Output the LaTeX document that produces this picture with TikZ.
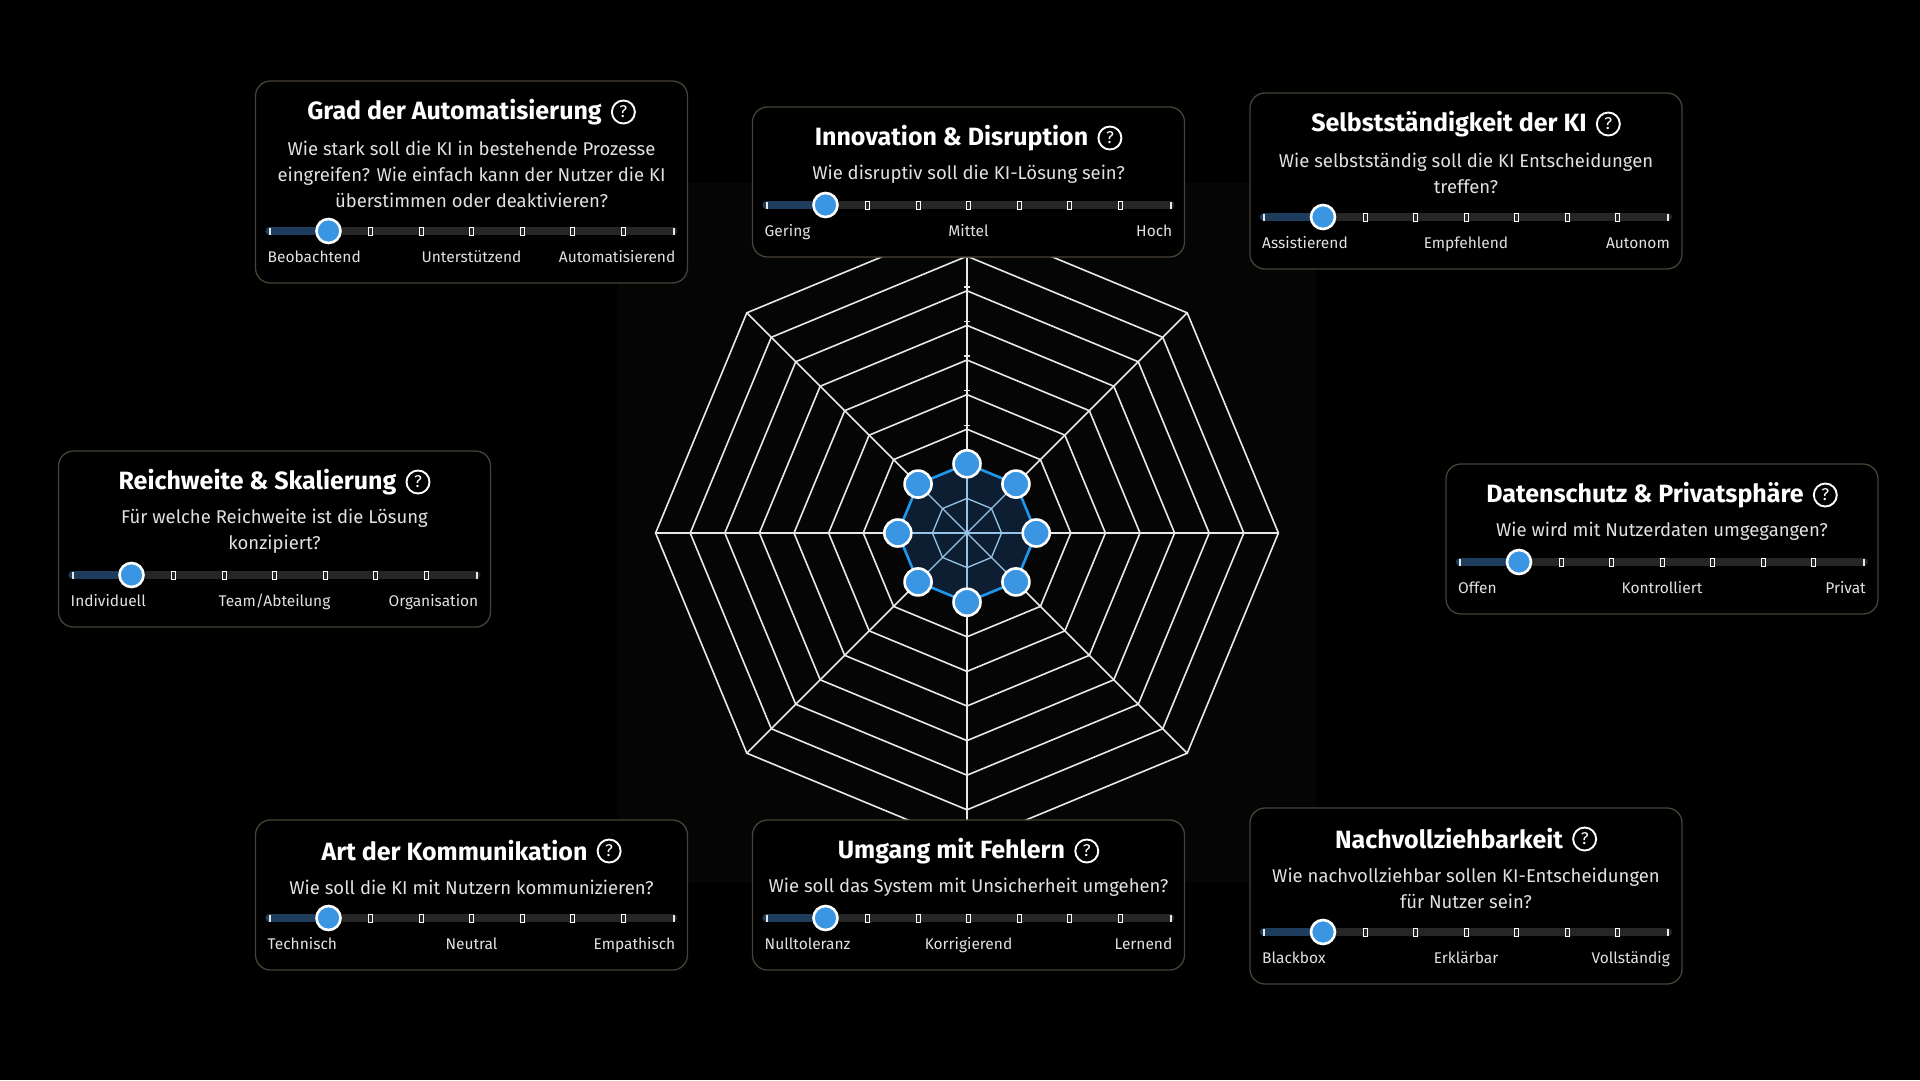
\documentclass[tikz,border=0pt]{standalone}
\usepackage{fontspec}
\setmainfont{Fira Sans}
\usepackage{xcolor}
\definecolor{panelborder}{RGB}{72,66,54}
\definecolor{panelbg}{RGB}{5,5,5}
\definecolor{trackgray}{RGB}{38,38,38}
\definecolor{trackblue}{RGB}{30,60,92}
\definecolor{knobblue}{RGB}{58,150,226}
\definecolor{polyfill}{RGB}{14,30,50}
\definecolor{polyedge}{RGB}{30,150,235}
\definecolor{innerline}{RGB}{150,195,230}
\definecolor{qgray}{RGB}{225,225,225}
\definecolor{gridwhite}{RGB}{232,232,232}
\usepackage{tikz}
\usetikzlibrary{calc}
\usetikzlibrary{positioning}
\newcommand{\ringstep}{34.6}
\newcommand{\panelwidth}{432}
\tikzset{
    panelbox/.style={draw=panelborder, fill=black, line width=1.3pt, rounded corners=15pt, minimum width=\panelwidth, inner sep=0pt},
    paneltitle/.style={text=white, font=\bfseries\fontsize{25}{29}\selectfont, inner sep=0pt},
    qmark/.style={draw=white, circle, line width=1.9pt, minimum size=23pt, inner sep=0pt, text=white, font=\fontsize{17}{17}\selectfont},
    panelq/.style={text=qgray, align=center, font=\fontsize{18.5}{26}\selectfont, inner sep=0pt},
    scalelabel/.style={text=qgray, font=\fontsize{15.5}{17}\selectfont, inner sep=0pt},
    track/.style={trackgray, line width=8pt, line cap=round},
    trackfill/.style={trackblue, line width=8pt, line cap=round},
    tick/.style={draw=white, fill=trackgray, line width=0.9pt, rectangle, minimum width=4pt, minimum height=8pt, inner sep=0pt},
    endtick/.style={fill=gridwhite, rectangle, minimum width=2pt, minimum height=7pt, inner sep=0pt},
    knob/.style={draw=white, fill=knobblue, circle, line width=2.6pt, minimum size=24pt, inner sep=0pt},
    gridline/.style={gridwhite, line width=1.6pt, line join=miter},
    dot/.style={draw=white, fill=knobblue, circle, line width=2.6pt, minimum size=27pt, inner sep=0pt}
}
% #1 name, #2 centre x, #3 top y, #4 question lines, #5 title, #6 question, #7-#9 scale labels
\newcommand{\panel}[9]{%
    \pgfmathsetmacro{\panelh}{150+26*(#4-1)}
    \pgfmathsetmacro{\panelq}{#3+67+13*(#4-1)}
    \pgfmathsetmacro{\panely}{#3+98+26*(#4-1)}
    \pgfmathsetmacro{\panell}{#2-202}
    \pgfmathsetmacro{\panelr}{#2+202}
    \node[panelbox, minimum height=\panelh] (#1) at (#2, #3+\panelh/2) {};
    \node[paneltitle] (#1-t) at (#2-17, #3+31) {#5};
    \node[qmark, right=9pt of #1-t] (#1-q) {?};
    \node[panelq] (#1-text) at (#2, \panelq) {#6};
    \coordinate (#1-a) at (\panell, \panely);
    \coordinate (#1-b) at (\panelr, \panely);
    \coordinate (#1-k) at (\panell+59, \panely);
    \draw[track] (#1-a) -- (#1-b);
    \draw[trackfill] (#1-a) -- (#1-k);
    \foreach \i in {2,...,7} \node[tick] at (\panell+\i*50.5, \panely) {};
    \node[endtick] at (#1-a) {};
    \node[endtick] at (#1-b) {};
    \node[knob] (#1-knob) at (#1-k) {};
    \node[scalelabel, anchor=base west] (#1-lo) at (\panell-2, \panely+31) {#7};
    \node[scalelabel, anchor=base] (#1-mid) at (#2, \panely+31) {#8};
    \node[scalelabel, anchor=base east] (#1-hi) at (\panelr+2, \panely+31) {#9};
}
\begin{document}
\begin{tikzpicture}[x=1pt, y=-1pt]
    \fill[black] (0,0) rectangle (1920,1080);
    \useasboundingbox (0,0) rectangle (1920,1080);
    \fill[panelbg] (618,183) rectangle (1316,883);

    % radar
    \begin{scope}[shift={(967,533)}]
        \coordinate (c) at (0,0);
        \foreach \k in {1,...,9} {
            \pgfmathsetmacro{\r}{\k*\ringstep}
            \draw[gridline] (0:\r) \foreach \a in {45,90,...,315} { -- (\a:\r) } -- cycle;
        }
        \foreach \a in {0,45,...,315} {
            \coordinate (v\a) at (\a:9*\ringstep);
            \draw[gridline] (c) -- (v\a);
        }
        \foreach \k in {3,...,7}
            \draw[gridwhite, line width=1.4pt] (-3,-\k*\ringstep-4) -- (3,-\k*\ringstep-4);
        \foreach \a in {0,45,...,315} \coordinate (p\a) at (\a:2*\ringstep);
        \fill[polyfill] (p0) -- (p45) -- (p90) -- (p135) -- (p180) -- (p225) -- (p270) -- (p315) -- cycle;
        \draw[innerline, line width=1.3pt] (0:\ringstep) \foreach \a in {45,90,...,315} { -- (\a:\ringstep) } -- cycle;
        \foreach \a in {0,45,...,315} \draw[innerline, line width=1.3pt] (c) -- (p\a);
        \draw[polyedge, line width=2.6pt] (p0) -- (p45) -- (p90) -- (p135) -- (p180) -- (p225) -- (p270) -- (p315) -- cycle;
        \foreach \a in {0,45,...,315} \node[dot] (d\a) at (p\a) {};
    \end{scope}

    % panels
    \panel{grad}{471.5}{81}{3}{Grad der Automatisierung}{Wie stark soll die KI in bestehende Prozesse\\eingreifen? Wie einfach kann der Nutzer die KI\\überstimmen oder deaktivieren?}{Beobachtend}{Unterstützend}{Automatisierend}
    \panel{innov}{968.5}{107}{1}{Innovation \& Disruption}{Wie disruptiv soll die KI-Lösung sein?}{Gering}{Mittel}{Hoch}
    \panel{selbst}{1466}{93}{2}{Selbstständigkeit der KI}{Wie selbstständig soll die KI Entscheidungen\\treffen?}{Assistierend}{Empfehlend}{Autonom}
    \panel{reich}{274.5}{451}{2}{Reichweite \& Skalierung}{Für welche Reichweite ist die Lösung\\konzipiert?}{Individuell}{Team/Abteilung}{Organisation}
    \panel{daten}{1662}{464}{1}{Datenschutz \& Privatsphäre}{Wie wird mit Nutzerdaten umgegangen?}{Offen}{Kontrolliert}{Privat}
    \panel{art}{471.5}{820}{1}{Art der Kommunikation}{Wie soll die KI mit Nutzern kommunizieren?}{Technisch}{Neutral}{Empathisch}
    \panel{fehler}{968.5}{820}{1}{Umgang mit Fehlern}{Wie soll das System mit Unsicherheit umgehen?}{Nulltoleranz}{Korrigierend}{Lernend}
    \panel{nach}{1466}{808}{2}{Nachvollziehbarkeit}{Wie nachvollziehbar sollen KI-Entscheidungen\\für Nutzer sein?}{Blackbox}{Erklärbar}{Vollständig}
\end{tikzpicture}
\end{document}
